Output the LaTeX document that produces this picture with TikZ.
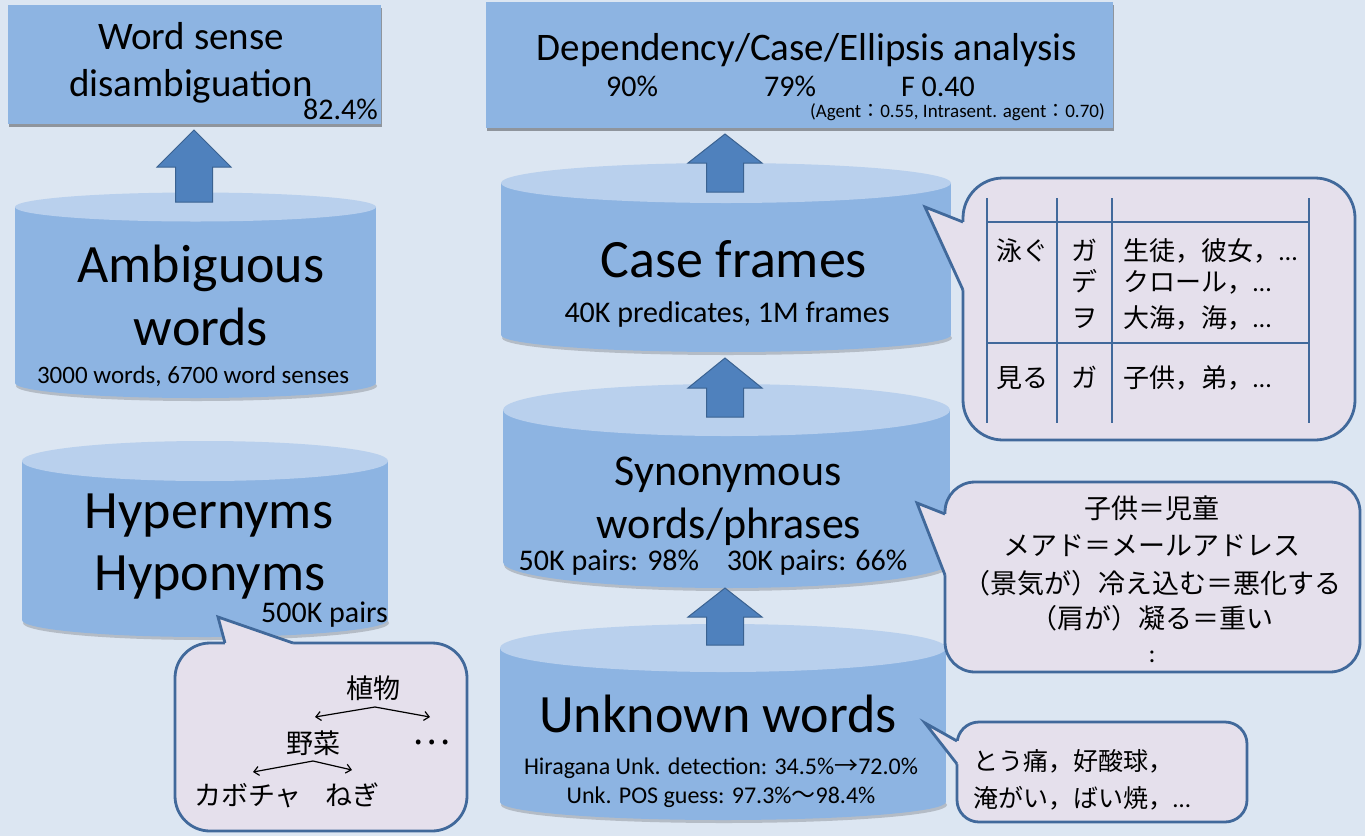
\documentclass[tikz,border=0pt]{standalone}
\usepackage{fontspec}
\setmainfont{Carlito}
\newfontfamily\jp{Noto Sans CJK JP}
\usetikzlibrary{fit,shadows,arrows.meta}

\definecolor{bgc}{HTML}{DCE6F2}
\definecolor{boxc}{HTML}{8DB4E2}
\definecolor{topc}{HTML}{B9D0ED}
\definecolor{arrc}{HTML}{4F81BD}
\definecolor{arrl}{HTML}{3A6291}
\definecolor{callc}{HTML}{E5E0EC}
\definecolor{calll}{HTML}{41699B}

\newcommand\fsz[1]{\fontsize{#1}{#1}\selectfont}

% database cylinder: name, x left, x right, y of top ellipse, y of bottom ellipse, top radius, bottom radius
\newcommand\dbcyl[7]{%
  \fill[black,opacity=0.18] ({(#2+#3)/2+1},{#5+3}) ellipse[x radius={(#3-#2)/2}, y radius=#7];
  \fill[boxc] (#2,#4) rectangle (#3,#5);
  \fill[boxc] ({(#2+#3)/2},#5) ellipse[x radius={(#3-#2)/2}, y radius=#7];
  \fill[topc] ({(#2+#3)/2},#4) ellipse[x radius={(#3-#2)/2}, y radius=#6];
  \coordinate (#1-nw) at (#2,{#4-#6});
  \coordinate (#1-se) at (#3,{#5+#7});
  \node[fit=(#1-nw)(#1-se), inner sep=0pt] (#1) {};}

% block arrow pointing up: centre x, tip y, head base y, tail y
\newcommand\uparr[4]{%
  \filldraw[blk] (#1,#2) -- ({#1+37},#3) -- ({#1+18.5},#3) -- ({#1+18.5},#4)
    -- ({#1-18.5},#4) -- ({#1-18.5},#3) -- ({#1-37},#3) -- cycle;}

\tikzset{
  panel/.style={fill=boxc, inner sep=0pt, anchor=north west,
    drop shadow={shadow xshift=1pt, shadow yshift=-2.5pt, opacity=0.35, fill=black}},
  blk/.style={fill=arrc, draw=arrl, line width=1pt},
  callbox/.style={fill=callc, draw=calll, line width=2.8pt},
  callline/.style={draw=calll, line width=2.8pt},
  tbl/.style={draw=calll, line width=2.8pt},
  txt/.style={anchor=base, inner sep=0pt},
  hier/.style={draw=black, line width=1.2pt, {Straight Barb[length=5pt,width=9pt]}-{Straight Barb[length=5pt,width=9pt]}},
}

\begin{document}
\begin{tikzpicture}[x=1pt, y=-1pt]
\useasboundingbox (0,0) rectangle (1365,836);
\fill[bgc] (0,0) rectangle (1365,836);

% ---------- analysis tasks ----------
\node[panel, minimum width=373pt, minimum height=119pt] (wsd) at (8,5) {};
\node[panel, minimum width=627pt, minimum height=126pt] (dep) at (486,2) {};

\node[txt, font=\fsz{39}] (wsd1) at (191,49) {Word sense};
\node[txt, font=\fsz{39}] (wsd2) at (191,96) {disambiguation};
\node[txt, anchor=base east, font=\fsz{30}] (wsd3) at (378,119) {82.4\%};

\node[txt, font=\fsz{39}] (dep1) at (807,60) {Dependency/Case/Ellipsis analysis};
\node[txt, font=\fsz{30}] (dep2) at (632,96) {90\%};
\node[txt, font=\fsz{30}] (dep3) at (790,96) {79\%};
\node[txt, font=\fsz{30}] (dep4) at (938,96) {F 0.40};
\node[txt, anchor=base east, font=\fsz{19}] (dep5) at (1105,117)
  {(Agent{\jp ：}0.55, Intrasent. agent{\jp ：}0.70)};

% ---------- knowledge bases ----------
\dbcyl{amb}{15}{376}{207}{383}{14.5}{15}
\dbcyl{hyp}{22}{388}{461}{620}{20}{17}
\dbcyl{cf}{501}{951}{183}{335}{20}{17}
\dbcyl{syn}{503}{950}{410}{562}{26}{26}
\dbcyl{unk}{500}{946}{648}{802}{24}{18}

\node[txt, font=\fsz{54}] (amb1) at (201,282) {Ambiguous};
\node[txt, font=\fsz{54}] (amb2) at (201,345) {words};
\node[txt, font=\fsz{25}] (amb3) at (193,383) {3000 words, 6700 word senses};

\node[txt, font=\fsz{54}] (hyp1) at (209,528) {Hypernyms};
\node[txt, font=\fsz{54}] (hyp2) at (210,590) {Hyponyms};
\node[txt, anchor=base east, font=\fsz{30}] (hyp3) at (388,622) {500K pairs};

\node[txt, font=\fsz{54}] (cf1) at (734,277) {Case frames};
\node[txt, font=\fsz{30}] (cf2) at (727,322) {40K predicates, 1M frames};

\node[txt, font=\fsz{44}] (syn1) at (728,485) {Synonymous};
\node[txt, font=\fsz{44}] (syn2) at (729,538) {words/phrases};
\node[txt, font=\fsz{30}] (syn3) at (713,570) {50K pairs: 98\%\hspace{21pt} 30K pairs: 66\%};

\node[txt, font=\fsz{54}] (unk1) at (718,732) {Unknown words};
\node[txt, font=\fsz{24}] (unk2) at (721,774) {Hiragana Unk. detection: 34.5\%{\jp →}72.0\%};
\node[txt, font=\fsz{24}] (unk3) at (721,803) {Unk. POS guess: 97.3\%{\jp 〜}98.4\%};

% ---------- block arrows ----------
\uparr{194}{130}{167}{202}
\uparr{725}{134}{163}{192}
\uparr{725}{358}{388}{417}
\uparr{725}{588}{617}{645}

% ---------- case frame callout ----------
\filldraw[callbox, rounded corners=40pt] (963,178) rectangle (1355,440);
\fill[callc] (925,207) -- (963,222) -- (968,222) -- (968,290) -- (963,290) -- cycle;
\draw[callline] (963,222) -- (925,207) -- (963,290);

\draw[tbl] (987,198) -- (987,423);
\draw[tbl] (1057,198) -- (1057,423);
\draw[tbl] (1112,198) -- (1112,423);
\draw[tbl] (1309,198) -- (1309,423);
\draw[tbl] (987,222) -- (1309,222);
\draw[tbl] (987,343) -- (1309,343);

\begin{scope}[every node/.style={txt, font=\jp\fsz{26}}]
\node (t11) at (1022,260) {泳ぐ};
\node (t12) at (1084,260) {ガ};
\node (t13) at (1084,291) {デ};
\node (t14) at (1084,327) {ヲ};
\node[anchor=base west] (t15) at (1123,260) {生徒，彼女，{\rmfamily …}};
\node[anchor=base west] (t16) at (1123,291) {クロール，{\rmfamily …}};
\node[anchor=base west] (t17) at (1123,327) {大海，海，{\rmfamily …}};
\node (t21) at (1022,387) {見る};
\node (t22) at (1084,387) {ガ};
\node[anchor=base west] (t23) at (1123,387) {子供，弟，{\rmfamily …}};
\end{scope}

% ---------- synonym callout ----------
\filldraw[callbox, rounded corners=30pt] (945,482) rectangle (1360,672);
\fill[callc] (917,503) -- (945,514) -- (950,514) -- (950,575) -- (945,575) -- cycle;
\draw[callline] (945,514) -- (917,503) -- (945,575);

\begin{scope}[every node/.style={txt, font=\jp\fsz{27}}]
\node (s1) at (1152,518) {子供＝児童};
\node (s2) at (1152,555) {メアド＝メールアドレス};
\node (s3) at (1152,593) {（景気が）冷え込む＝悪化する};
\node (s4) at (1152,628) {（肩が）凝る＝重い};
\node[anchor=center, font=\fsz{26}] (s5) at (1152,657) {:};
\end{scope}

% ---------- unknown word callout ----------
\filldraw[callbox, rounded corners=22pt] (957,722) rectangle (1247,822);
\fill[callc] (925,723) -- (957,741) -- (962,741) -- (962,764) -- (957,764) -- cycle;
\draw[callline] (957,741) -- (925,723) -- (957,764);

\begin{scope}[every node/.style={txt, anchor=base west, font=\jp\fsz{25}}]
\node (u1) at (973,770) {とう痛，好酸球，};
\node (u2) at (973,807) {淹がい，ばい焼，{\rmfamily …}};
\end{scope}

% ---------- hypernym callout ----------
\filldraw[callbox, rounded corners=35pt] (175,643) rectangle (467,831);
\fill[callc] (218,617) -- (225,643) -- (225,648) -- (293,648) -- (293,643) -- cycle;
\draw[callline] (225,643) -- (218,617) -- (293,643);

\begin{scope}[every node/.style={txt, font=\jp\fsz{27}}]
\node (h1) at (373,698) {植物};
\node (h2) at (313,753) {野菜};
\node (h3) at (248,805) {カボチャ};
\node (h4) at (352,805) {ねぎ};
\node[anchor=center, font=\jp\fsz{36}] (h5) at (432,742) {…};
\end{scope}
\coordinate (pj) at (375,707);
\coordinate (pl) at (315,717);
\coordinate (pr) at (430,717);
\coordinate (vj) at (313,761);
\coordinate (vl) at (253,772);
\coordinate (vr) at (352,770);
\draw[hier] (pl) -- (pj) -- (pr);
\draw[hier] (vl) -- (vj) -- (vr);
\end{tikzpicture}
\end{document}
